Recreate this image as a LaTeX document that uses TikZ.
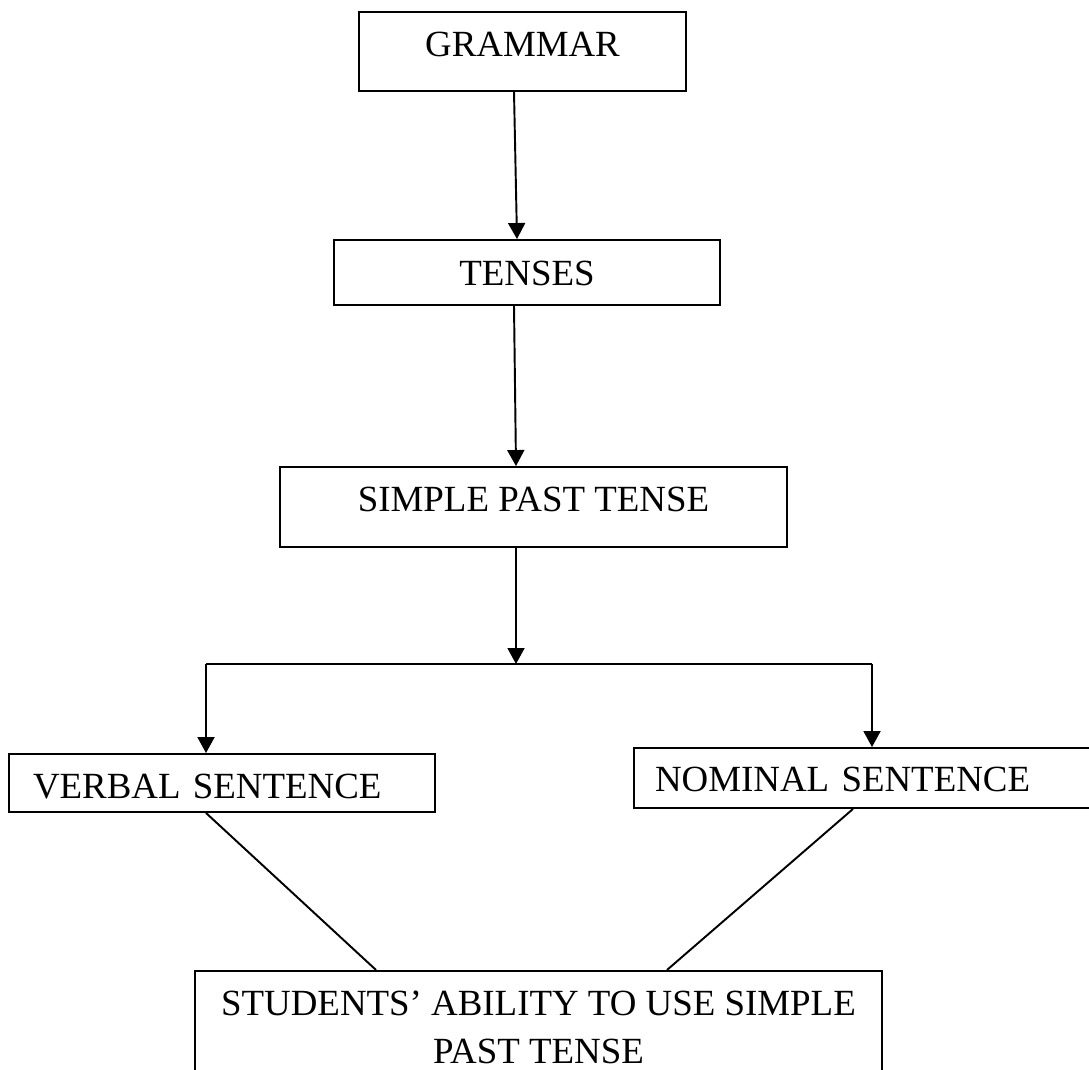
\documentclass[tikz,border=0pt]{standalone}
\usepackage{fontspec}
\setmainfont{Liberation Serif}
\usetikzlibrary{arrows.meta}

\begin{document}
\begin{tikzpicture}[x=0.02cm, y=-0.02cm,
        box/.style={draw, rectangle, line width=1.1pt, inner xsep=0pt, inner ysep=0pt, text height=0.8cm, font=\fontsize{21}{27.3}\selectfont},
        arr/.style={line width=1.1pt, -{Triangle[length=0.32cm,width=0.34cm]}}]
            \useasboundingbox (0,0) rectangle (1089,1070);
            \clip (0,0) rectangle (1089,1070);
            \node[box, minimum width=6.54cm, minimum height=1.58cm, text depth=0.58cm] (grammar) at (522.5,51.5) {GRAMMAR};
            \node[box, minimum width=7.72cm, minimum height=1.3cm, text depth=0.26cm] (tenses) at (527,272.5) {TENSES};
            \node[box, minimum width=10.14cm, minimum height=1.6cm, text depth=0.6cm] (simple) at (533.5,507) {SIMPLE PAST TENSE};
            \node[box, minimum width=8.52cm, minimum height=1.16cm, text depth=0.16cm, inner xsep=0.48cm, text width=7.56cm, align=left] (verbal) at (222,783) {VERBAL SENTENCE};
            \node[box, minimum width=9.52cm, minimum height=1.2cm, text depth=0.24cm, inner xsep=0.42cm, text width=8.68cm, align=left] (nominal) at (872,778) {NOMINAL SENTENCE};
            \node[box, anchor=north, minimum width=13.74cm, inner ysep=0.4cm, text height=, text depth=1.3cm, align=center] (students) at (538.5,970) {STUDENTS’ ABILITY TO USE SIMPLE\\PAST TENSE};
            \coordinate (split) at (516,664);
            \coordinate (splitL) at (206,664);
            \coordinate (splitR) at (872,664);
            \draw[arr] ([xshift=-0.17cm]grammar.south) -- ([xshift=-0.2cm]tenses.north);
            \draw[arr] ([xshift=-0.26cm]tenses.south) -- ([xshift=-0.35cm]simple.north);
            \draw[arr] (simple.south -| split) -- (split);
            \draw[line width=1.1pt] (splitL) -- (splitR);
            \draw[arr] (splitL) -- (verbal.north -| splitL);
            \draw[arr] (splitR) -- (nominal.north -| splitR);
            \draw[line width=1.1pt] (verbal.south -| splitL) -- ([xshift=-3.25cm]students.north);
            \draw[line width=1.1pt] ([xshift=-0.38cm]nominal.south) -- ([xshift=2.57cm]students.north);
        \end{tikzpicture}
\end{document}
